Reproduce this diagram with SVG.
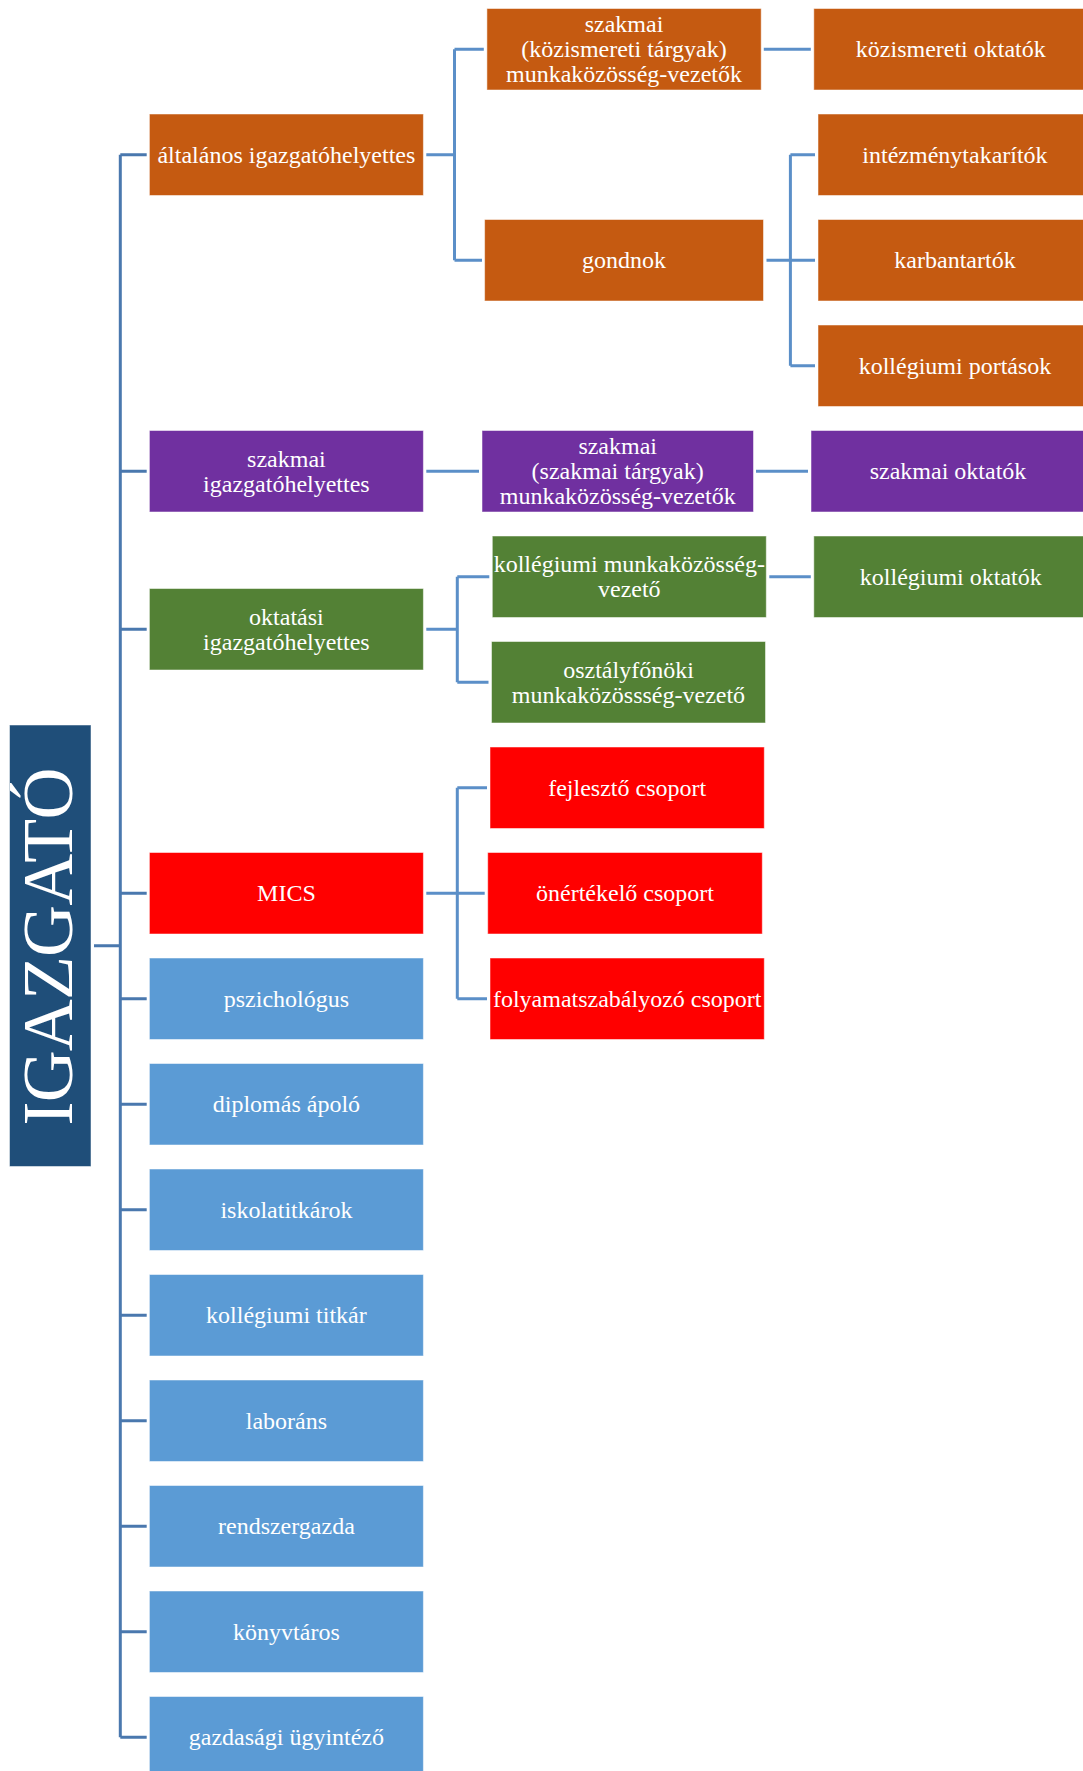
<svg xmlns="http://www.w3.org/2000/svg" width="1083" height="1771" viewBox="0 0 1083 1771">
<style>
  .box { stroke: #ffffff; stroke-opacity: 0.5; stroke-width: 1; }
  .or { fill: #C55A11; }
  .pu { fill: #7030A0; }
  .gr { fill: #538135; }
  .rd { fill: #FF0000; }
  .bl { fill: #5B9BD5; }
  .nv { fill: #1F4E79; }
  text { font-family: "Liberation Serif", "Times New Roman", serif; font-size: 24px; fill: #ffffff; text-anchor: middle; }
  .root { font-size: 72px; }
  .c1 { fill: none; stroke: #4A78AE; stroke-width: 3; }
  .c2 { fill: none; stroke: #5B8FC8; stroke-width: 3; }
</style>
<rect width="1083" height="1771" fill="#ffffff"/>

<g id="connectors">
  <!-- root trunk -->
  <path class="c1" d="M94 945.75 H120.3 M120.3 154.75 V1737.25"/>
  <path class="c1" d="M120.3 154.75 H146.7 M120.3 471.25 H146.7 M120.3 629.25 H146.7 M120.3 893.25 H146.7 M120.3 998.75 H146.7 M120.3 1104.25 H146.7 M120.3 1209.75 H146.7 M120.3 1315.25 H146.7 M120.3 1420.75 H146.7 M120.3 1526.25 H146.7 M120.3 1631.75 H146.7 M120.3 1737.25 H146.7"/>
  <!-- általános -->
  <path class="c2" d="M426.3 154.75 H454.5 M454.5 49.25 V260.25 M454.5 49.25 H483.8 M454.5 260.25 H482"/>
  <!-- szakmai igh -->
  <path class="c2" d="M426.3 471.25 H479"/>
  <!-- oktatási -->
  <path class="c2" d="M426.3 629.25 H457.3 M457.3 576.75 V682.25 M457.3 576.75 H489.3 M457.3 682.25 H488.5"/>
  <!-- MICS -->
  <path class="c2" d="M426.3 893.25 H484.7 M457.3 787.75 V998.75 M457.3 787.75 H487 M457.3 998.75 H487"/>
  <!-- level 2 to level 3 -->
  <path class="c2" d="M763.8 49.25 H810.8"/>
  <path class="c2" d="M766.5 260.25 H815 M790.4 154.75 V365.75 M790.4 154.75 H815 M790.4 365.75 H815"/>
  <path class="c2" d="M756 471.25 H808"/>
  <path class="c2" d="M769.3 576.75 H810.8"/>
</g>

<g id="igazgato">
  <rect class="box nv" x="9.5" y="725" width="81.5" height="441.5"/>
  <text class="root" transform="translate(72 946.5) rotate(-90)" textLength="358">IGAZGATÓ</text>
</g>

<g id="altalanos">
  <rect class="box or" x="149.4" y="114" width="274" height="81.5"/>
  <text x="286.4" y="162.75">általános igazgatóhelyettes</text>
</g>
<g id="szakmai-igh">
  <rect class="box pu" x="149.4" y="430.5" width="274" height="81.5"/>
  <text x="286.4" y="466.75">szakmai</text>
  <text x="286.4" y="491.75">igazgatóhelyettes</text>
</g>
<g id="oktatasi-igh">
  <rect class="box gr" x="149.4" y="588.5" width="274" height="81.5"/>
  <text x="286.4" y="624.75">oktatási</text>
  <text x="286.4" y="649.75">igazgatóhelyettes</text>
</g>
<g id="mics">
  <rect class="box rd" x="149.4" y="852.5" width="274" height="81.5"/>
  <text x="286.4" y="901.25">MICS</text>
</g>
<g id="pszichologus">
  <rect class="box bl" x="149.4" y="958" width="274" height="81.5"/>
  <text x="286.4" y="1006.75">pszichológus</text>
</g>
<g id="diplomas-apolo">
  <rect class="box bl" x="149.4" y="1063.5" width="274" height="81.5"/>
  <text x="286.4" y="1112.25">diplomás ápoló</text>
</g>
<g id="iskolatitkarok">
  <rect class="box bl" x="149.4" y="1169" width="274" height="81.5"/>
  <text x="286.4" y="1217.75">iskolatitkárok</text>
</g>
<g id="kollegiumi-titkar">
  <rect class="box bl" x="149.4" y="1274.5" width="274" height="81.5"/>
  <text x="286.4" y="1323.25">kollégiumi titkár</text>
</g>
<g id="laborans">
  <rect class="box bl" x="149.4" y="1380" width="274" height="81.5"/>
  <text x="286.4" y="1428.75">laboráns</text>
</g>
<g id="rendszergazda">
  <rect class="box bl" x="149.4" y="1485.5" width="274" height="81.5"/>
  <text x="286.4" y="1534.25">rendszergazda</text>
</g>
<g id="konyvtaros">
  <rect class="box bl" x="149.4" y="1591" width="274" height="81.5"/>
  <text x="286.4" y="1639.75">könyvtáros</text>
</g>
<g id="gazdasagi">
  <rect class="box bl" x="149.4" y="1696.5" width="274" height="81.5"/>
  <text x="286.4" y="1745.25">gazdasági ügyintéző</text>
</g>

<g id="szakmai-kozism-mkv">
  <rect class="box or" x="486.9" y="8.5" width="274.3" height="81.5"/>
  <text x="624" y="32.25">szakmai</text>
  <text x="624" y="57.25">(közismereti tárgyak)</text>
  <text x="624" y="82.25">munkaközösség-vezetők</text>
</g>
<g id="gondnok">
  <rect class="box or" x="484.6" y="219.5" width="278.9" height="81.5"/>
  <text x="624" y="268.25">gondnok</text>
</g>
<g id="szakmai-szakmai-mkv">
  <rect class="box pu" x="482" y="430.5" width="271.5" height="81.5"/>
  <text x="617.7" y="454.25">szakmai</text>
  <text x="617.7" y="479.25">(szakmai tárgyak)</text>
  <text x="617.7" y="504.25">munkaközösség-vezetők</text>
</g>
<g id="kollegiumi-mkv">
  <rect class="box gr" x="492.3" y="536" width="274" height="81.5"/>
  <text x="629.3" y="572.25">kollégiumi munkaközösség-</text>
  <text x="629.3" y="597.25">vezető</text>
</g>
<g id="osztalyfonoki">
  <rect class="box gr" x="491.5" y="641.5" width="274" height="81.5"/>
  <text x="628.5" y="677.75">osztályfőnöki</text>
  <text x="628.5" y="702.75">munkaközössség-vezető</text>
</g>
<g id="fejleszto">
  <rect class="box rd" x="490" y="747" width="274.3" height="81.5"/>
  <text x="627.2" y="795.75">fejlesztő csoport</text>
</g>
<g id="onertekelo">
  <rect class="box rd" x="487.7" y="852.5" width="274.6" height="81.5"/>
  <text x="625" y="901.25">önértékelő csoport</text>
</g>
<g id="folyamatszabalyozo">
  <rect class="box rd" x="490" y="958" width="274.3" height="81.5"/>
  <text x="627.2" y="1006.75">folyamatszabályozó csoport</text>
</g>

<g id="kozismereti-oktatok">
  <rect class="box or" x="813.8" y="8.5" width="274" height="81.5"/>
  <text x="950.8" y="57.25">közismereti oktatók</text>
</g>
<g id="intezmenytakaritok">
  <rect class="box or" x="818" y="114" width="274" height="81.5"/>
  <text x="955" y="162.75">intézménytakarítók</text>
</g>
<g id="karbantartok">
  <rect class="box or" x="818" y="219.5" width="274" height="81.5"/>
  <text x="955" y="268.25">karbantartók</text>
</g>
<g id="kollegiumi-portasok">
  <rect class="box or" x="818" y="325" width="274" height="81.5"/>
  <text x="955" y="373.75">kollégiumi portások</text>
</g>
<g id="szakmai-oktatok">
  <rect class="box pu" x="811" y="430.5" width="274" height="81.5"/>
  <text x="948" y="479.25">szakmai oktatók</text>
</g>
<g id="kollegiumi-oktatok">
  <rect class="box gr" x="813.8" y="536" width="274" height="81.5"/>
  <text x="950.8" y="584.75">kollégiumi oktatók</text>
</g>
</svg>
